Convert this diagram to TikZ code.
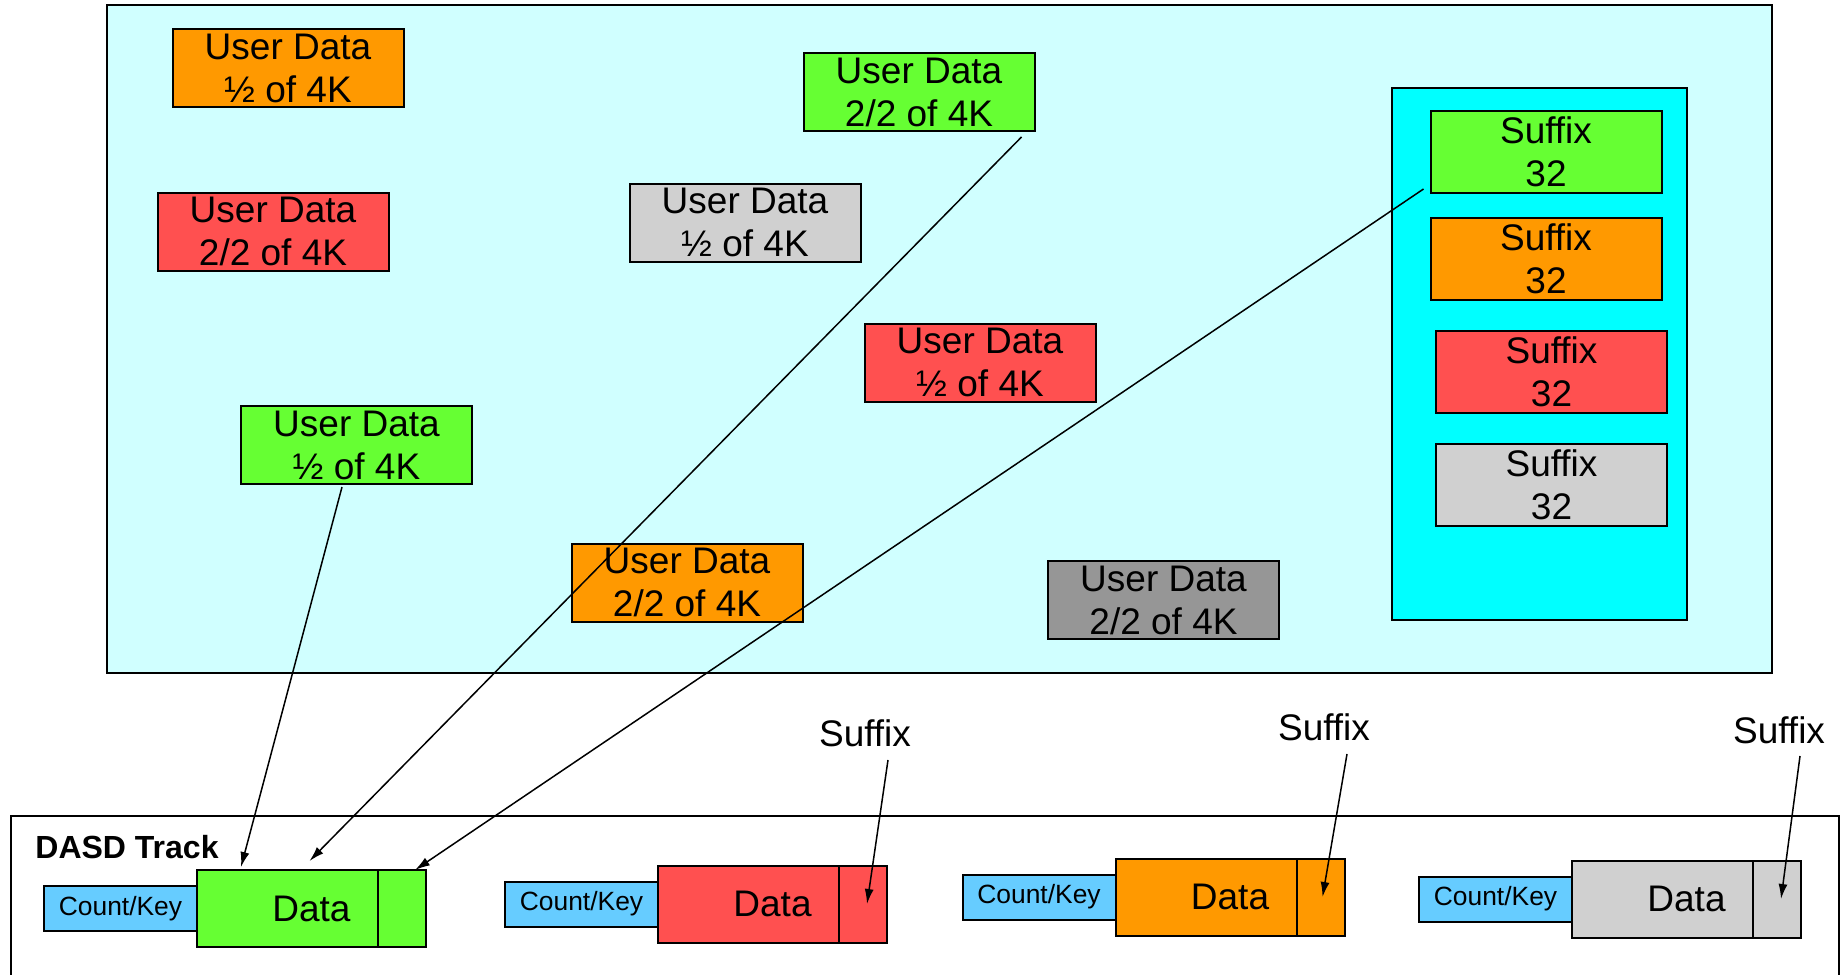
\documentclass[tikz,border=0pt]{standalone}
\usepackage{fontspec}
\setmainfont{Liberation Sans}
\usetikzlibrary{arrows.meta,positioning}
\definecolor{bgcyan}{RGB}{208,255,255}
\definecolor{sfxcyan}{RGB}{0,255,255}
\definecolor{udorange}{RGB}{255,153,0}
\definecolor{udred}{RGB}{255,80,80}
\definecolor{udgreen}{RGB}{102,255,51}
\definecolor{udgray}{RGB}{208,208,208}
\definecolor{uddark}{RGB}{150,150,150}
\definecolor{ckblue}{RGB}{102,204,255}
\tikzset{
  box/.style={draw=black, line width=1pt, align=center, inner sep=0pt, outer sep=0pt,
    font=\fontsize{18.5}{21.5}\selectfont},
  userdata/.style={box, minimum width=115.5pt, minimum height=39pt},
  suffixbox/.style={box, minimum width=115.5pt, minimum height=41pt},
  countkey/.style={box, fill=ckblue, minimum width=76.5pt, minimum height=22.5pt,
    font=\fontsize{13.2}{16}\selectfont},
  databox/.style={box, minimum width=114.5pt, minimum height=38.5pt},
  label/.style={inner sep=0pt, font=\fontsize{18.5}{21.5}\selectfont},
  ptr/.style={-{Latex[length=7.5pt,width=4.5pt]}, line width=0.75pt}
}

\begin{document}
\begin{tikzpicture}[x=0.5pt,y=-0.5pt]
  \useasboundingbox (0,0) rectangle (1845,974);
  % memory area and suffix column
  \draw[line width=1pt, fill=bgcyan] (107,5) rectangle (1772,673);
  \draw[line width=1pt, fill=sfxcyan] (1392,88) rectangle (1687,620);

  % user data pieces
  \node[userdata, fill=udorange] (udo1) at (288,68.5) {User Data\\½ of 4K};
  \node[userdata, fill=udred] (udr2) at (273,231.5) {User Data\\2/2 of 4K};
  \node[userdata, fill=udgreen] (udg2) at (919,92) {User Data\\2/2 of 4K};
  \node[userdata, fill=udgray] (udy1) at (745,222.5) {User Data\\½ of 4K};
  \node[userdata, fill=udred] (udr1) at (980,362.5) {User Data\\½ of 4K};
  \node[userdata, fill=udgreen] (udg1) at (356.5,445) {User Data\\½ of 4K};
  \node[userdata, fill=udorange] (udo2) at (687,582.5) {User Data\\2/2 of 4K};
  \node[userdata, fill=uddark] (udd2) at (1163.5,600) {User Data\\2/2 of 4K};

  % suffixes
  \foreach \name/\x/\y/\col in {sfg/1546/152/udgreen, sfo/1546/258.5/udorange,
                                sfr/1551.5/372/udred, sfy/1551.5/485/udgray} {
    \node[suffixbox, fill=\col] (\name) at (\x,\y) {Suffix\\32};
  }

  % DASD track
  \draw[line width=1pt] (11,976) -- (11,816) -- (1839,816) -- (1839,976);
  \node[anchor=base west, inner sep=0pt, font=\fontsize{16}{18}\selectfont\bfseries]
    (dasd) at (35,858) {DASD Track};
  \foreach \i/\x/\y/\col in {1/120.5/908.5/udgreen, 2/581.5/904/udred,
                             3/1039/897/udorange, 4/1495.5/899/udgray} {
    \node[countkey] (ck\i) at (\x,\y) {Count/Key};
    \node[databox, fill=\col, right=0pt of ck\i] (d\i) {Data};
    \draw[line width=1pt] ([xshift=-24pt]d\i.north east) -- ([xshift=-24pt]d\i.south east);
  }

  % suffix labels
  \node[label] (sl2) at (865,733) {Suffix};
  \node[label] (sl3) at (1324,727) {Suffix};
  \node[label] (sl4) at (1779,730) {Suffix};

  % pointers
  \draw[ptr] ([xshift=-7.25pt,yshift=-1.5pt]udg1.south) -- ([xshift=22pt,yshift=1.5pt]d1.north west);
  \draw[ptr] ([xshift=-6.5pt,yshift=-3pt]udg2.south east) -- ([xshift=-1pt,yshift=4.5pt]d1.north);
  \draw[ptr] ([xshift=-3.5pt,yshift=2pt]sfg.south west) -- ([xshift=-5.5pt]d1.north east);
  \draw[ptr] ([xshift=11.5pt,yshift=-6.5pt]sl2.south) -- ([xshift=-10pt]d2.east);
  \draw[ptr] ([xshift=11.5pt,yshift=-6.5pt]sl3.south) -- ([xshift=-11pt]d3.east);
  \draw[ptr] ([xshift=10.5pt,yshift=-6pt]sl4.south) -- ([xshift=-10pt]d4.east);
\end{tikzpicture}
\end{document}
